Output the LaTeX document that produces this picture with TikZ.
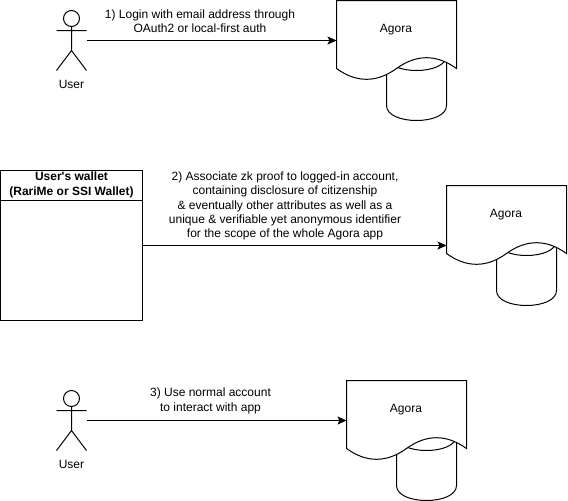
\documentclass[tikz,border=0pt]{standalone}
\usepackage{fontspec}
\setmainfont[Ligatures={NoCommon,TeXOff}]{Liberation Sans}
\usetikzlibrary{arrows.meta}
\def \userStr {User}
\def \agoraStr {Agora}
\def \walletStr {User\symbol{39}s wallet\\(RariMe or SSI Wallet)}
\def \loginStr {1) Login with email address through\\OAuth2 or local-first auth}
\def \proofStr {2) Associate zk proof to logged-in account,\\containing disclosure of citizenship\\\& eventually other attributes as well as a\\unique \& verifiable yet anonymous identifier\\for the scope of the whole Agora app}
\def \normalStr {3) Use normal account\\to interact with app}
\def \agoraShape {
  \draw[myline] (50,55) .. controls (50,35) and (110,35) .. (110,55) -- (110,105)
    .. controls (110,125) and (50,125) .. (50,105) -- cycle;
  \draw[myline] (50,55) .. controls (50,75) and (110,75) .. (110,55);
  \draw[myline,fill=white] (0,0) -- (120,0) -- (120,68)
    .. controls (100,53.6) and (80,53.6) .. (60,68)
    .. controls (40,82.4) and (20,82.4) .. (0,68) -- cycle;
}
\def \userShape {
  \draw[myline] (0,-22) circle (8pt);
  \draw[myline] (0,-14) -- (0,10) (-15,-10) -- (15,-10) (-15,30) -- (0,10) -- (15,30);
}
\tikzset{
  myline/.style={line width=1pt,draw=black},
  mytext/.style={font=\fontsize{12}{14.4}\selectfont,align=center,inner sep=0pt},
  myarrow/.style={myline,-{Stealth[length=9pt,width=8pt,inset=2pt]}},
  userbox/.style={minimum width=30pt,minimum height=60pt,inner sep=0pt}
}

\begin{document}
\begin{tikzpicture}[x=1pt,y=-1pt]

\useasboundingbox (0,0) rectangle (568,501);

\begin{scope}[shift={(336.5,0.5)}]
\agoraShape
\end{scope}
\begin{scope}[shift={(446.5,185.5)}]
\agoraShape
\end{scope}
\begin{scope}[shift={(346.5,380.5)}]
\agoraShape
\end{scope}

\begin{scope}[shift={(71.5,40.5)}]
\userShape
\end{scope}
\begin{scope}[shift={(71.5,420.5)}]
\userShape
\end{scope}

\node[userbox] (userTop) at (71.5,40.5) {};
\node[userbox] (userBottom) at (71.5,420.5) {};
\node[draw=black,line width=1pt,minimum width=142pt,minimum height=150pt,inner sep=0pt] (wallet) at (71.5,245.5) {};
\draw[myline] (wallet.west |- 0,200.5) -- (wallet.east |- 0,200.5);

\coordinate (agoraTopIn) at (336.5,40.5);
\coordinate (agoraMidIn) at (446.5,245.5);
\coordinate (agoraBottomIn) at (346.5,420.5);

\draw[myarrow] (userTop) -- (agoraTopIn);
\draw[myarrow] (wallet) -- (agoraMidIn);
\draw[myarrow] (userBottom) -- (agoraBottomIn);

\node[mytext] (userTopLabel) at (71.5,84) {\userStr};
\node[mytext] (userBottomLabel) at (71.5,464) {\userStr};
\node[mytext] (agoraTop) at (396,29.5) {\agoraStr};
\node[mytext] (agoraMid) at (506,214.5) {\agoraStr};
\node[mytext] (agoraBottom) at (406,409.5) {\agoraStr};
\node[mytext,font=\fontsize{12}{15}\selectfont\bfseries] (walletTitle) at (71.5,185) {\walletStr};

\node[mytext] (loginLabel) at (200,21) {\loginStr};
\node[mytext] (proofLabel) at (285,206) {\proofStr};
\node[mytext] (normalLabel) at (210.5,401) {\normalStr};

\end{tikzpicture}
\end{document}
